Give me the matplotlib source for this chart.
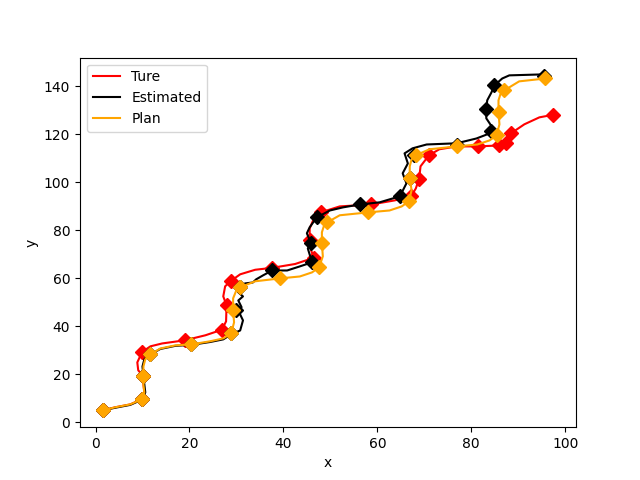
import matplotlib
matplotlib.use("Agg")
import matplotlib.pyplot as plt

# path traces (x, y in data units)
true_x = [1.5, 4.2, 7.4, 9.8, 10.4, 10.2, 10.2, 9.1, 8.9, 9.9, 11.7, 14.2, 19.0, 23.4, 26.9,
          27.8, 27.9, 27.2, 27.6, 28.8, 30.8, 34.0, 37.6, 42.5, 46.5, 45.9, 45.6, 45.6, 46.5,
          48.1, 52.0, 58.7, 63.7, 67.2, 68.2, 68.9, 69.2, 71.0, 73.2, 76.9, 81.4, 86.0, 87.3,
          88.5, 91.3, 94.5, 97.5]
true_y = [5.0, 6.3, 7.5, 9.6, 12.5, 15.8, 19.2, 21.7, 25.0, 29.3, 31.7, 32.9, 34.2, 36.3, 38.6,
          42.1, 48.8, 52.5, 56.7, 58.9, 61.7, 63.6, 64.4, 66.0, 68.6, 71.7, 75.8, 80.8, 85.0,
          87.6, 90.0, 90.8, 92.5, 94.2, 97.5, 101.5, 106.7, 111.3, 113.8, 115.0, 115.0, 115.4,
          116.3, 120.5, 124.2, 127.1, 128.2]

est_x = [1.5, 4.2, 7.4, 9.8, 10.6, 10.4, 10.2, 10.0, 10.4, 11.7, 13.8, 17.0, 20.4, 24.4, 27.2,
         28.9, 30.8, 31.4, 30.6, 31.1, 30.4, 31.4, 30.4, 31.8, 33.5, 34.2, 35.7, 37.6, 40.8,
         43.5, 46.1, 45.2, 45.9, 45.0, 45.6, 47.1, 49.9, 52.7, 56.3, 60.5, 64.8, 66.2, 65.4,
         66.5, 65.8, 67.5, 70.5, 76.9, 81.1, 83.9, 84.3, 84.5, 83.2, 83.2, 83.4, 84.3, 84.9,
         86.6, 88.1, 95.1, 95.5]
est_y = [5.0, 6.1, 7.3, 9.4, 12.5, 15.8, 19.2, 23.3, 26.3, 28.3, 30.6, 31.9, 32.3, 33.5, 34.6,
         36.7, 38.3, 42.5, 45.8, 48.0, 50.8, 52.5, 54.2, 57.9, 58.3, 59.6, 61.3, 63.3, 63.3,
         65.0, 66.7, 72.5, 74.6, 78.8, 81.3, 85.4, 88.3, 89.6, 90.8, 91.7, 94.2, 99.6, 103.8,
         107.9, 112.1, 114.2, 115.8, 116.3, 118.3, 120.4, 121.3, 122.9, 126.7, 130.4, 134.2,
         137.5, 140.4, 143.3, 144.6, 145.0, 144.2]

plan_x = [1.5, 4.2, 7.4, 9.8, 10.4, 10.2, 10.2, 10.2, 10.6, 11.7, 13.8, 17.0, 20.4, 24.4, 27.2,
          28.9, 29.5, 29.3, 29.3, 29.9, 30.8, 34.0, 39.3, 43.5, 46.1, 47.6, 48.4, 48.2, 48.2,
          48.6, 49.3, 52.0, 58.0, 62.6, 65.2, 66.7, 67.3, 66.9, 66.9, 67.3, 68.2, 71.1, 76.9,
          81.3, 83.9, 85.4, 86.0, 85.8, 85.8, 86.2, 87.0, 90.2, 95.8]
plan_y = [5.0, 6.3, 7.5, 9.6, 12.5, 15.8, 19.2, 23.3, 26.3, 28.3, 30.8, 32.1, 32.5, 33.8, 35.0,
          37.1, 41.7, 46.7, 51.7, 54.6, 56.3, 58.8, 60.0, 60.8, 62.5, 64.6, 69.2, 74.6, 79.2,
          81.7, 83.3, 86.3, 87.5, 88.3, 90.0, 92.1, 96.7, 101.7, 106.7, 109.6, 111.3, 113.8,
          115.0, 115.8, 117.5, 119.6, 124.2, 129.2, 134.2, 136.7, 138.3, 142.1, 143.3]

# waypoints (diamond markers)
true_wx = [1.5, 9.8, 10.2, 9.9, 19.0, 26.9, 27.9, 28.8, 37.6, 46.5, 45.6, 48.1, 58.7, 67.2,
           68.9, 71.0, 81.4, 86.0, 87.3, 88.5, 97.5]
true_wy = [5.0, 9.6, 19.2, 29.3, 34.2, 38.6, 48.8, 58.9, 64.4, 68.6, 75.8, 87.6, 90.8, 94.2,
           101.5, 111.3, 115.0, 115.4, 116.3, 120.5, 128.2]

est_wx = [1.5, 9.8, 10.2, 11.7, 20.4, 28.9, 30.0, 30.8, 37.6, 46.1, 45.9, 47.1, 56.3, 64.8,
          66.9, 67.8, 76.9, 84.3, 83.2, 84.9, 95.5]
est_wy = [5.0, 9.6, 19.2, 28.3, 32.5, 37.1, 46.7, 56.3, 63.3, 66.7, 74.6, 85.4, 90.8, 94.2,
          101.7, 111.3, 115.6, 121.3, 130.4, 140.4, 144.2]

plan_wx = [1.5, 9.8, 10.2, 11.7, 20.4, 28.9, 29.3, 30.8, 39.3, 47.6, 48.2, 49.3, 58.0, 66.7,
           66.9, 68.2, 76.9, 85.4, 85.8, 87.0, 95.8]
plan_wy = [5.0, 9.6, 19.2, 28.3, 32.5, 37.1, 46.7, 56.3, 60.0, 64.6, 74.6, 83.3, 87.5, 92.1,
           101.7, 111.3, 115.0, 119.6, 129.2, 138.3, 143.3]

fig, ax = plt.subplots(figsize=(6.4, 4.8), dpi=100)

ax.plot(true_x, true_y, color="red", label="Ture")
ax.plot(true_wx, true_wy, "D", color="red", markersize=7)
ax.plot(est_x, est_y, color="black", label="Estimated")
ax.plot(est_wx, est_wy, "D", color="black", markersize=7)
ax.plot(plan_x, plan_y, color="orange", label="Plan")
ax.plot(plan_wx, plan_wy, "D", color="orange", markersize=7)

ax.set_xlabel("x")
ax.set_ylabel("y")
ax.legend(loc="upper left")

fig.savefig("out.png", dpi=100)
